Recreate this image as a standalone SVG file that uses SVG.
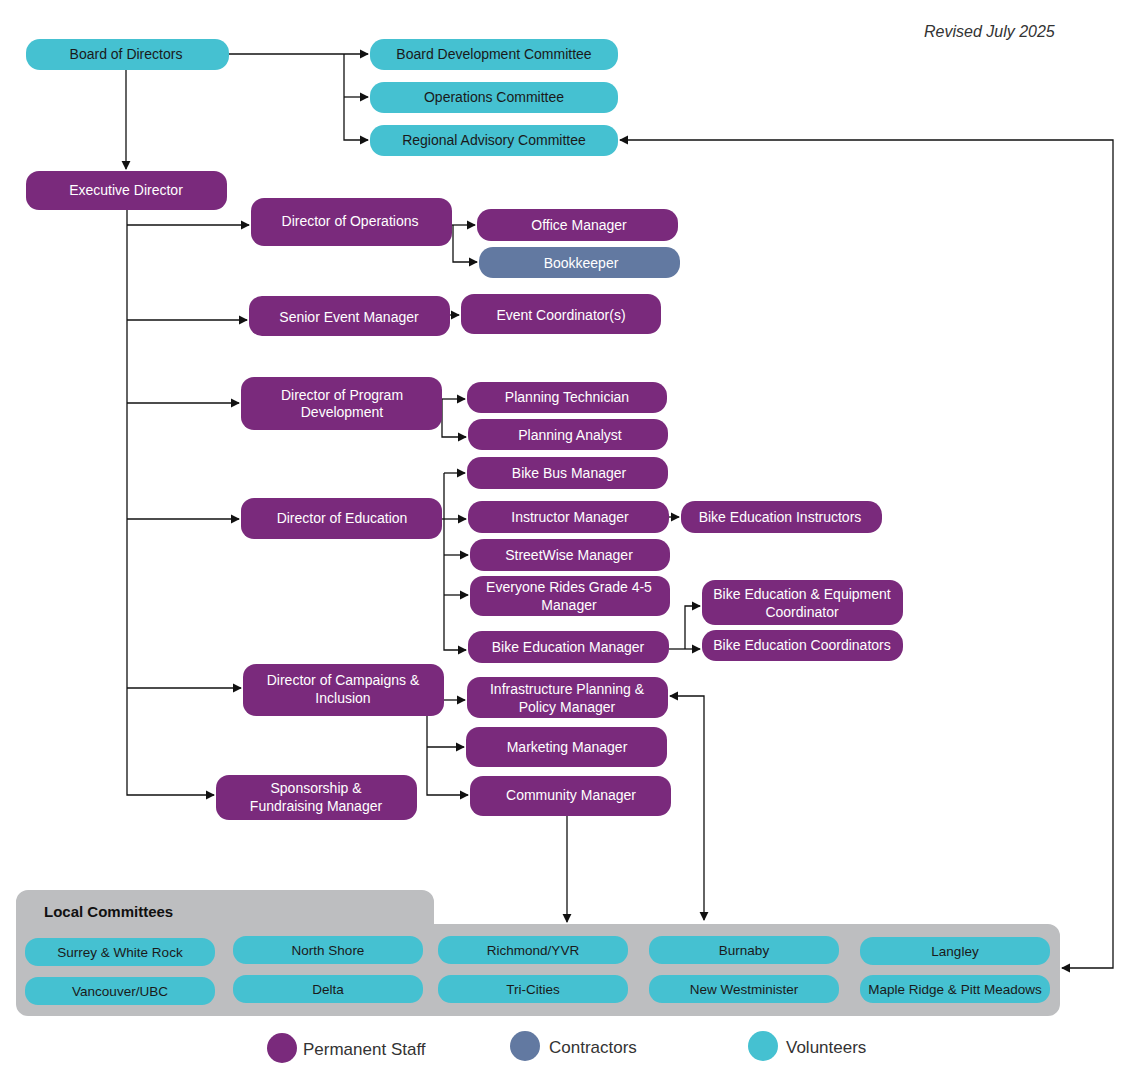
<svg xmlns="http://www.w3.org/2000/svg" width="1131" height="1080" viewBox="0 0 1131 1080">
<style>
text{font-family:"Liberation Sans",Arial,sans-serif;font-size:14px;text-anchor:middle}
.t rect{fill:#45C1D1}.t text{fill:#1a1a1a}
.p rect{fill:#7A2A7C}.p text{fill:#fff}
.c rect{fill:#6279A1}.c text{fill:#fff}
.v rect{fill:#45C1D1}.v text{fill:#1a1a1a;font-size:13.5px}
#conn path{fill:none;stroke:#111;stroke-width:1.3}
.lg{font-size:17px;text-anchor:start;fill:#333}
</style>
<defs><marker id="a" viewBox="0 0 10 10" refX="9" refY="5" markerWidth="7" markerHeight="7" orient="auto-start-reverse"><path d="M0,0L10,5L0,10z" fill="#111"/></marker></defs>
<rect width="1131" height="1080" fill="#fff"/>
<text x="924" y="37" style="font-style:italic;font-size:16px;text-anchor:start;fill:#333">Revised July 2025</text>
<g id="panel"><path d="M28,890H422a12,12 0 0 1 12,12V924H1048a12,12 0 0 1 12,12V1004a12,12 0 0 1-12,12H28a12,12 0 0 1-12-12V902a12,12 0 0 1 12-12z" fill="#BDBEC0"/><text x="44" y="917" style="font-weight:bold;font-size:15px;text-anchor:start;fill:#111">Local Committees</text></g>
<g id="conn">
<path d="M126,70V169" marker-end="url(#a)"/>
<path d="M229,54H368" marker-end="url(#a)"/>
<path d="M344,54V140H368" marker-end="url(#a)"/>
<path d="M344,97H368" marker-end="url(#a)"/>
<path d="M127,210V795H214" marker-end="url(#a)"/>
<path d="M127,225H249" marker-end="url(#a)"/>
<path d="M127,320H247" marker-end="url(#a)"/>
<path d="M127,403H239" marker-end="url(#a)"/>
<path d="M127,519H239" marker-end="url(#a)"/>
<path d="M127,688H241" marker-end="url(#a)"/>
<path d="M452,225H475" marker-end="url(#a)"/>
<path d="M453,225V262H477" marker-end="url(#a)"/>
<path d="M450,315H459" marker-end="url(#a)"/>
<path d="M442,399H465" marker-end="url(#a)"/>
<path d="M442,399V437H466" marker-end="url(#a)"/>
<path d="M444,473V650H466" marker-end="url(#a)"/>
<path d="M444,473H465" marker-end="url(#a)"/>
<path d="M442,519H466" marker-end="url(#a)"/>
<path d="M444,555H468" marker-end="url(#a)"/>
<path d="M444,595H468" marker-end="url(#a)"/>
<path d="M669,517H679" marker-end="url(#a)"/>
<path d="M669,649H700" marker-end="url(#a)"/>
<path d="M685,649V606H700" marker-end="url(#a)"/>
<path d="M444,700H465" marker-end="url(#a)"/>
<path d="M427,716V795H468" marker-end="url(#a)"/>
<path d="M427,747H464" marker-end="url(#a)"/>
<path d="M567,816V922" marker-end="url(#a)"/>
<path d="M670,696H704V920" marker-start="url(#a)" marker-end="url(#a)"/>
<path d="M620,140H1113V968H1062" marker-start="url(#a)" marker-end="url(#a)"/>
</g>
<g id="board" class="t"><rect x="26" y="39" width="203" height="31" rx="14"/><text x="126" y="59">Board of Directors</text></g>
<g id="bdc" class="t"><rect x="370" y="39" width="248" height="31" rx="14"/><text x="494" y="59">Board Development Committee</text></g>
<g id="opc" class="t"><rect x="370" y="82" width="248" height="31" rx="14"/><text x="494" y="102">Operations Committee</text></g>
<g id="rac" class="t"><rect x="370" y="125" width="248" height="31" rx="14"/><text x="494" y="145">Regional Advisory Committee</text></g>
<g id="exec" class="p"><rect x="26" y="171" width="201" height="39" rx="13"/><text x="126" y="195">Executive Director</text></g>
<g id="dops" class="p"><rect x="251" y="198" width="201" height="48" rx="13"/><text x="350" y="226">Director of Operations</text></g>
<g id="office" class="p"><rect x="477" y="209" width="201" height="32" rx="14"/><text x="579" y="230">Office Manager</text></g>
<g id="book" class="c"><rect x="479" y="247" width="201" height="31" rx="14"/><text x="581" y="268">Bookkeeper</text></g>
<g id="sem" class="p"><rect x="249" y="296" width="201" height="40" rx="13"/><text x="349" y="322">Senior Event Manager</text></g>
<g id="ec" class="p"><rect x="461" y="294" width="200" height="40" rx="13"/><text x="561" y="320">Event Coordinator(s)</text></g>
<g id="dpd" class="p"><rect x="241" y="377" width="201" height="53" rx="13"/><text x="342" y="400">Director of Program</text><text x="342" y="417">Development</text></g>
<g id="pt" class="p"><rect x="467" y="382" width="200" height="31" rx="14"/><text x="567" y="402">Planning Technician</text></g>
<g id="pa" class="p"><rect x="468" y="419" width="200" height="31" rx="14"/><text x="570" y="440">Planning Analyst</text></g>
<g id="bbm" class="p"><rect x="467" y="457" width="201" height="32" rx="14"/><text x="569" y="478">Bike Bus Manager</text></g>
<g id="de" class="p"><rect x="241" y="498" width="201" height="41" rx="13"/><text x="342" y="523">Director of Education</text></g>
<g id="im" class="p"><rect x="468" y="501" width="201" height="32" rx="14"/><text x="570" y="522">Instructor Manager</text></g>
<g id="bei" class="p"><rect x="681" y="501" width="201" height="32" rx="14"/><text x="780" y="522">Bike Education Instructors</text></g>
<g id="sw" class="p"><rect x="470" y="539" width="200" height="32" rx="14"/><text x="569" y="560">StreetWise Manager</text></g>
<g id="er" class="p"><rect x="470" y="576" width="200" height="40" rx="13"/><text x="569" y="592">Everyone Rides Grade 4-5</text><text x="569" y="610">Manager</text></g>
<g id="beec" class="p"><rect x="702" y="580" width="201" height="45" rx="13"/><text x="802" y="599">Bike Education &amp; Equipment</text><text x="802" y="617">Coordinator</text></g>
<g id="bem" class="p"><rect x="468" y="631" width="201" height="32" rx="14"/><text x="568" y="652">Bike Education Manager</text></g>
<g id="bec" class="p"><rect x="702" y="630" width="201" height="31" rx="14"/><text x="802" y="650">Bike Education Coordinators</text></g>
<g id="dci" class="p"><rect x="243" y="664" width="201" height="52" rx="13"/><text x="343" y="685">Director of Campaigns &amp;</text><text x="343" y="703">Inclusion</text></g>
<g id="ipp" class="p"><rect x="467" y="677" width="201" height="41" rx="13"/><text x="567" y="694">Infrastructure Planning &amp;</text><text x="567" y="712">Policy Manager</text></g>
<g id="mm" class="p"><rect x="466" y="727" width="201" height="40" rx="13"/><text x="567" y="752">Marketing Manager</text></g>
<g id="sfm" class="p"><rect x="216" y="775" width="201" height="45" rx="13"/><text x="316" y="793">Sponsorship &amp;</text><text x="316" y="811">Fundraising Manager</text></g>
<g id="cm" class="p"><rect x="470" y="776" width="201" height="40" rx="13"/><text x="571" y="800">Community Manager</text></g>
<g id="v1" class="v"><rect x="25" y="938" width="190" height="28" rx="13"/><text x="120" y="957">Surrey &amp; White Rock</text></g>
<g id="v2" class="v"><rect x="233" y="936" width="190" height="28" rx="13"/><text x="328" y="955">North Shore</text></g>
<g id="v3" class="v"><rect x="438" y="936" width="190" height="28" rx="13"/><text x="533" y="955">Richmond/YVR</text></g>
<g id="v4" class="v"><rect x="649" y="936" width="190" height="28" rx="13"/><text x="744" y="955">Burnaby</text></g>
<g id="v5" class="v"><rect x="860" y="937" width="190" height="28" rx="13"/><text x="955" y="956">Langley</text></g>
<g id="v6" class="v"><rect x="25" y="977" width="190" height="28" rx="13"/><text x="120" y="996">Vancouver/UBC</text></g>
<g id="v7" class="v"><rect x="233" y="975" width="190" height="28" rx="13"/><text x="328" y="994">Delta</text></g>
<g id="v8" class="v"><rect x="438" y="975" width="190" height="28" rx="13"/><text x="533" y="994">Tri-Cities</text></g>
<g id="v9" class="v"><rect x="649" y="975" width="190" height="28" rx="13"/><text x="744" y="994">New Westminister</text></g>
<g id="v10" class="v"><rect x="860" y="975" width="190" height="28" rx="13"/><text x="955" y="994">Maple Ridge &amp; Pitt Meadows</text></g>
<g id="legend">
<circle cx="282" cy="1048" r="15" fill="#7A2A7C"/><text class="lg" x="303" y="1055">Permanent Staff</text>
<circle cx="525" cy="1046" r="15" fill="#6279A1"/><text class="lg" x="549" y="1053">Contractors</text>
<circle cx="763" cy="1046" r="15" fill="#45C1D1"/><text class="lg" x="786" y="1053">Volunteers</text>
</g>
</svg>
